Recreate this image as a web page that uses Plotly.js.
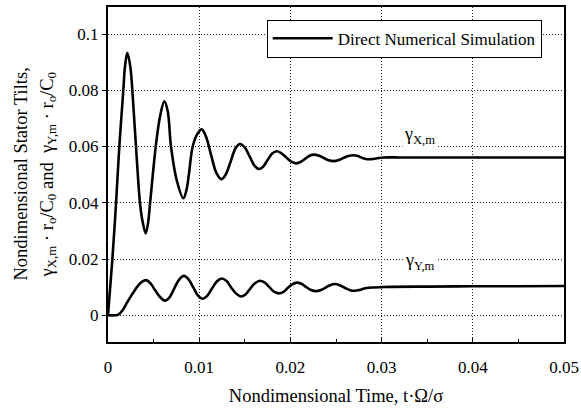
<!DOCTYPE html>
<html>
<head>
<meta charset="utf-8">
<script src="https://cdn.plot.ly/plotly-3.0.1.min.js"></script>
<style>html,body{margin:0;padding:0;background:#fff;}#chart{width:581px;height:412px;}</style>
</head>
<body>
<div id="chart"></div>
<script>
// Nondimensional time samples and stator tilt values
const tX = [0, 0.00047, 0.00088, 0.00124, 0.00168, 0.00186, 0.00212, 0.00245, 0.00275, 0.00307, 0.00351,
  0.00376, 0.00413, 0.00440, 0.00461, 0.00523, 0.00570, 0.00618, 0.00655, 0.00691, 0.00753, 0.00826,
  0.00860, 0.00888, 0.00928, 0.00980, 0.01027, 0.01075, 0.01130, 0.01190, 0.01243, 0.01290, 0.01345,
  0.01400, 0.01447, 0.01500, 0.01555, 0.01610, 0.01656, 0.01700, 0.01750, 0.01800, 0.01850, 0.01900,
  0.01955, 0.02010, 0.02060, 0.02110, 0.02160, 0.02210, 0.02262, 0.02315, 0.02366, 0.02420, 0.02470,
  0.02525, 0.02580, 0.02635, 0.02690, 0.02740, 0.02790, 0.02840, 0.02890, 0.02950, 0.03020, 0.0320,
  0.035, 0.040, 0.045, 0.050];
const gammaX = [0, 0.0196, 0.0398, 0.0599, 0.0800, 0.0883, 0.0933, 0.0883, 0.0760, 0.0599, 0.0398,
  0.0339, 0.0291, 0.0330, 0.0398, 0.0599, 0.0706, 0.0761, 0.0725, 0.0599, 0.0481, 0.0416,
  0.0445, 0.0504, 0.0599, 0.0645, 0.0661, 0.0635, 0.0570, 0.0505, 0.0484, 0.0500, 0.0547,
  0.0595, 0.0609, 0.0597, 0.0563, 0.0530, 0.0520, 0.0528, 0.0552, 0.0575, 0.0583, 0.0576,
  0.0561, 0.0546, 0.0540, 0.0545, 0.0556, 0.0567, 0.0571, 0.0567, 0.0559, 0.0551, 0.0548,
  0.0551, 0.0559, 0.0566, 0.0569, 0.0566, 0.0559, 0.0555, 0.0555, 0.0558, 0.0561, 0.0561,
  0.0561, 0.0561, 0.0561, 0.0561];

const tY = [0, 0.0008, 0.00113, 0.00160, 0.00205, 0.00250, 0.00296, 0.00350, 0.00417, 0.00470, 0.00515,
  0.00570, 0.00625, 0.00675, 0.00727, 0.00780, 0.00833, 0.00885, 0.00935, 0.00985, 0.01038, 0.01090,
  0.01140, 0.01195, 0.01247, 0.01300, 0.01350, 0.01405, 0.01458, 0.01510, 0.01560, 0.01615, 0.01667,
  0.01720, 0.01770, 0.01820, 0.01875, 0.01925, 0.01970, 0.02020, 0.02070, 0.02120, 0.02170, 0.02225,
  0.02281, 0.02335, 0.02385, 0.02435, 0.02489, 0.02545, 0.02600, 0.02655, 0.02710, 0.02760, 0.02810,
  0.02860, 0.02910, 0.0300, 0.0310, 0.0350, 0.0400, 0.0450, 0.0500];
const gammaY = [0, 0, 0.0002, 0.0018, 0.0043, 0.0067, 0.0090, 0.0113, 0.0125, 0.0112, 0.0090,
  0.0065, 0.0052, 0.0064, 0.0096, 0.0127, 0.0140, 0.0127, 0.0099, 0.0071, 0.0059, 0.0070,
  0.0095, 0.0121, 0.0131, 0.0122, 0.0099, 0.0077, 0.0067, 0.0075, 0.0095, 0.0115, 0.0123,
  0.0116, 0.0100, 0.0084, 0.0078, 0.0083, 0.0097, 0.0110, 0.0116, 0.0112, 0.0101, 0.0090,
  0.0086, 0.0090, 0.0098, 0.0107, 0.0111, 0.0106, 0.0097, 0.0089, 0.0087, 0.0090, 0.0095,
  0.0098, 0.0099, 0.0100, 0.0101, 0.0102, 0.0103, 0.0103, 0.0104];

const xTicks = [0, 0.01, 0.02, 0.03, 0.04, 0.05];
const xTickText = ["0", "0.01", "0.02", "0.03", "0.04", "0.05"];
const yTicks = [0, 0.02, 0.04, 0.06, 0.08, 0.1];
const yTickText = ["0", "0.02", "0.04", "0.06", "0.08", "0.1"];

const legendName = "Direct Numerical Simulation";
const labelX = "γ<sub>X,m</sub>";
const labelY = "γ<sub>Y,m</sub>";
const yTitle1 = "Nondimensional Stator Tilts,";
const yTitle2 = "γ<sub>X,m</sub> · r<sub>o</sub>/C<sub>0</sub> and  γ<sub>Y,m</sub> · r<sub>o</sub>/C<sub>0</sub>";
const xTitle = "Nondimensional Time, t·Ω/σ";

const serif = "Liberation Serif, DejaVu Serif, serif";

const traces = [
  {x: tX, y: gammaX, type: "scatter", mode: "lines", name: legendName, showlegend: true,
   line: {color: "#000", width: 2.6, shape: "spline", smoothing: 1}},
  {x: tY, y: gammaY, type: "scatter", mode: "lines", name: legendName, showlegend: false,
   line: {color: "#000", width: 2.6, shape: "spline", smoothing: 1}}
];

const layout = {
  width: 581, height: 412,
  margin: {l: 108, r: 17, t: 7, b: 70},
  paper_bgcolor: "#fff", plot_bgcolor: "#fff",
  font: {family: serif, size: 17, color: "#000"},
  showlegend: true,
  legend: {x: 0.348, y: 0.962, xanchor: "left", yanchor: "top", itemwidth: 60,
    bgcolor: "#fff", bordercolor: "#000", borderwidth: 1,
    font: {family: serif, size: 17, color: "#000"}},
  xaxis: {
    range: [0, 0.05], tickvals: xTicks, ticktext: xTickText,
    showgrid: true, gridcolor: "#222", griddash: "1px,2px", gridwidth: 1,
    zeroline: false, showline: true, linecolor: "#000", linewidth: 2, mirror: true,
    ticks: "inside", ticklen: 4, tickcolor: "#000", ticklabelstandoff: 9,
    minor: {dtick: 0.005, tick0: 0, ticks: "inside", ticklen: 3, tickcolor: "#000", showgrid: false},
    tickfont: {family: serif, size: 17},
    title: {text: xTitle, font: {family: serif, size: 18.5}, standoff: 13}
  },
  yaxis: {
    range: [-0.0095, 0.1096], tickvals: yTicks, ticktext: yTickText,
    showgrid: true, gridcolor: "#222", griddash: "1px,2px", gridwidth: 1,
    zeroline: false, showline: true, linecolor: "#000", linewidth: 2, mirror: true,
    ticks: "outside", ticklen: 4, tickcolor: "#000",
    tickfont: {family: serif, size: 17}
  },
  annotations: [
    {x: 0, y: 0.5, xref: "paper", yref: "paper", text: yTitle1, textangle: -90, showarrow: false,
     xanchor: "center", yanchor: "middle", xshift: -88, font: {family: serif, size: 18.5}},
    {x: 0, y: 0.5, xref: "paper", yref: "paper", text: yTitle2, textangle: -90, showarrow: false,
     xanchor: "center", yanchor: "middle", xshift: -60, font: {family: serif, size: 18.5}},
    {x: 0.0342, y: 0.0640, xref: "x", yref: "y", text: labelX, showarrow: false,
     bgcolor: "#fff", font: {family: serif, size: 18}},
    {x: 0.0342, y: 0.0190, xref: "x", yref: "y", text: labelY, showarrow: false,
     bgcolor: "#fff", font: {family: serif, size: 18}}
  ]
};

Plotly.newPlot("chart", traces, layout, {displayModeBar: false, staticPlot: true});
</script>
</body>
</html>
